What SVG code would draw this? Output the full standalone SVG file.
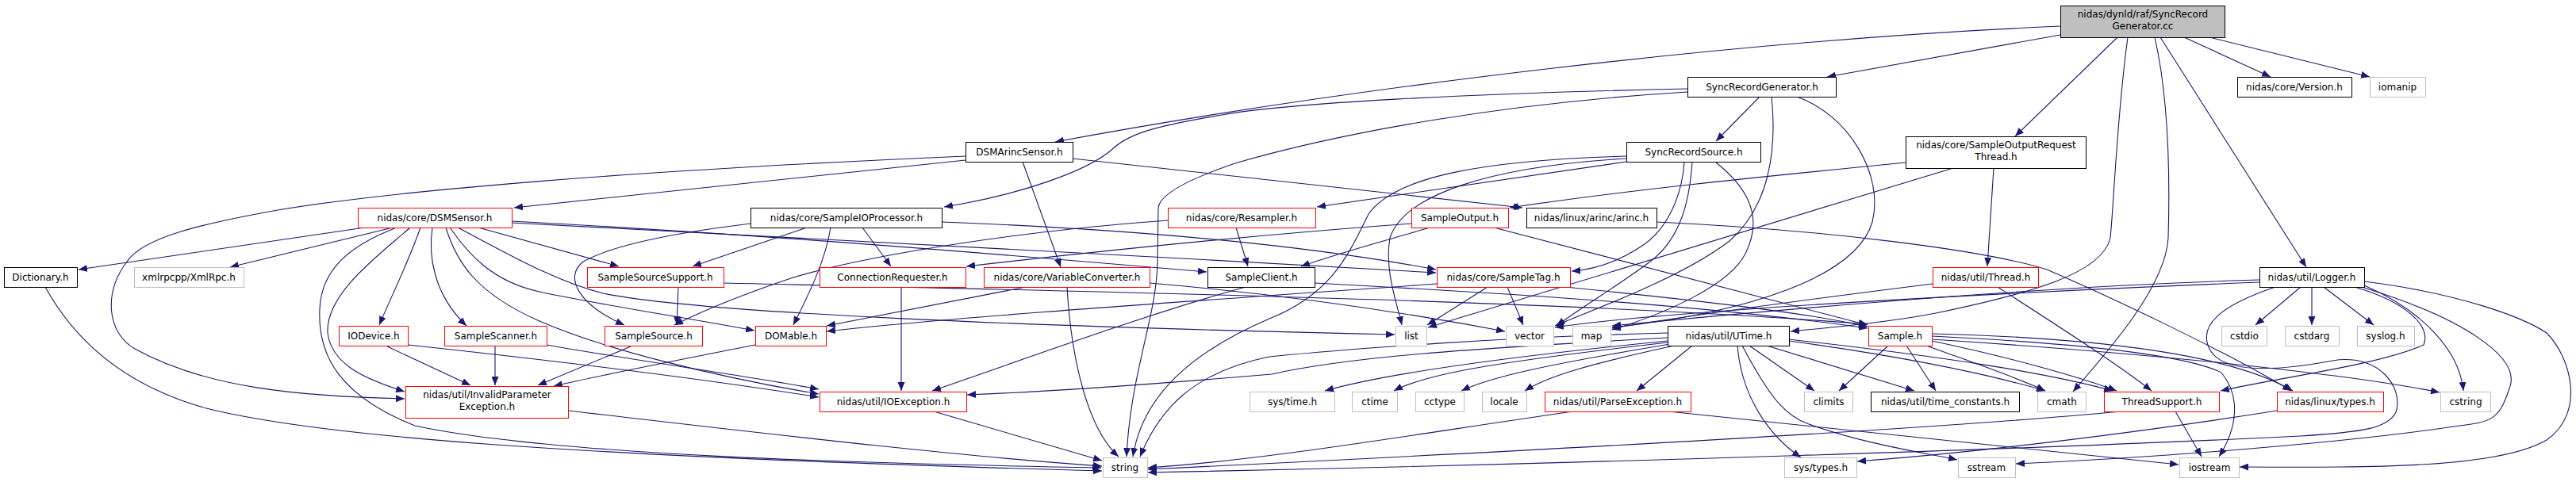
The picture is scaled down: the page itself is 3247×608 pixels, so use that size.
<svg xmlns="http://www.w3.org/2000/svg" width="3247" height="608" viewBox="0 0 3247 608">
<style>
.n rect{fill:#fff;stroke-width:1}
.r rect{stroke:#ff0000}
.k rect{stroke:#000}
.g rect{stroke:#bfbfbf}
text{font-family:"DejaVu Sans","Liberation Sans",sans-serif;font-size:12px;text-anchor:middle;fill:#000}
.e path{fill:none;stroke:#191970;stroke-width:1.1;marker-end:url(#a)}
</style>
<defs>
<marker id="a" markerWidth="12" markerHeight="9" refX="11" refY="4.5" orient="auto" markerUnits="userSpaceOnUse"><path d="M0,0 L11,4.5 L0,9 z" fill="#191970"/></marker>
</defs>
<rect width="3247" height="608" fill="#fff"/>
<g class="e" id="edges">
<path d="M2597,44 L2303,97"/>
<path d="M2597,33 C2200,50 1700,110 1330,179"/>
<path d="M2669,47 L2540,172"/>
<path d="M2753,47 L2862,97"/>
<path d="M2785,47 L2987,97"/>
<path d="M2723,47 L2907,337"/>
<path d="M2716,47 C2735,130 2735,230 2733,300 C2730,360 2660,440 2613,494"/>
<path d="M2682,47 C2668,150 2665,250 2660,300 C2650,345 2560,370 2440,395 C2380,407 2300,414 2257,418"/>
<path d="M2218,122 L2163,178"/>
<path d="M2127,112 C1850,118 1620,130 1540,145 C1450,160 1420,170 1400,190 C1370,215 1290,245 1190,261"/>
<path d="M2127,116 C1900,130 1700,165 1560,205 C1500,225 1462,245 1460,262 L1459,330 C1458,400 1425,470 1420,576"/>
<path d="M2233,122 C2240,190 2230,260 2180,304 C2120,350 2010,390 1960,411"/>
<path d="M2265,122 C2330,145 2375,220 2360,280 C2340,350 2200,395 2032,413"/>
<path d="M1217,202 L648,262"/>
<path d="M1217,197 C800,215 500,240 350,265 C250,283 180,300 160,330 C130,370 135,420 170,440 C260,490 380,500 510,503"/>
<path d="M1289,204 L1337,337"/>
<path d="M1352,200 L1919,262"/>
<path d="M2050,204 L1660,261"/>
<path d="M2050,197 C1880,202 1760,220 1725,270 C1700,320 1680,370 1600,402 C1500,445 1440,500 1428,576"/>
<path d="M2050,200 C1880,210 1770,245 1752,300 C1745,340 1760,380 1767,410"/>
<path d="M2123,204 C2120,250 2100,290 2070,310 C2040,330 2010,340 1981,342"/>
<path d="M2133,204 C2130,250 2120,300 2080,330 C2040,360 1990,390 1962,411"/>
<path d="M2163,205 C2220,250 2215,290 2200,320 C2180,360 2100,395 2032,416"/>
<path d="M2462,212 L1800,413"/>
<path d="M2402,205 C2200,225 2050,240 1903,262"/>
<path d="M2513,212 L2505,336"/>
<path d="M460,287 L99,340"/>
<path d="M495,287 L290,337"/>
<path d="M500,287 C440,310 405,340 403,390 C400,450 430,500 523,537 C700,575 1100,585 1388,590"/>
<path d="M517,287 C480,320 410,370 413,420 C418,460 460,478 510,494"/>
<path d="M530,287 C515,330 495,370 478,410"/>
<path d="M545,287 C540,320 545,370 588,411"/>
<path d="M562,287 C575,330 600,370 680,405 C760,440 900,475 1032,497"/>
<path d="M567,287 C590,320 620,355 680,368 C760,385 860,400 951,417"/>
<path d="M577,287 C640,320 700,355 760,370 C880,395 1300,412 1758,422"/>
<path d="M603,287 L780,336"/>
<path d="M645,279 C850,290 1080,305 1521,343"/>
<path d="M645,281 C900,295 1400,320 1810,344"/>
<path d="M946,282 C880,290 780,305 735,330 C710,350 730,385 787,410"/>
<path d="M1017,287 L873,336"/>
<path d="M1047,287 C1040,330 1020,370 1000,410"/>
<path d="M1087,287 L1123,336"/>
<path d="M1187,280 C1450,290 1650,310 1810,340"/>
<path d="M1472,278 C1300,290 1100,320 1000,350 C940,370 890,390 850,410"/>
<path d="M1558,287 L1573,336"/>
<path d="M1779,282 C1600,295 1400,315 1218,336"/>
<path d="M1802,287 C1760,300 1700,315 1640,336"/>
<path d="M1883,287 L2354,410"/>
<path d="M1570,362 C1450,395 1300,450 1175,493"/>
<path d="M1657,357 C1900,370 2150,385 2354,414"/>
<path d="M1875,362 L1799,410"/>
<path d="M1900,362 L1920,410"/>
<path d="M1811,358 C1500,380 1200,400 1042,418"/>
<path d="M1973,362 C2150,380 2280,395 2354,412"/>
<path d="M1345,362 C1350,450 1370,540 1410,576"/>
<path d="M1293,362 C1200,380 1100,400 1042,411"/>
<path d="M1449,357 C1600,370 1750,390 1897,418"/>
<path d="M1136,362 L1136,493"/>
<path d="M855,362 L853,410"/>
<path d="M912,357 C1400,368 2000,380 2354,409"/>
<path d="M952,435 C850,455 750,475 698,487"/>
<path d="M795,437 L678,486"/>
<path d="M624,437 L624,486"/>
<path d="M689,435 C800,455 950,475 1032,491"/>
<path d="M488,437 L593,486"/>
<path d="M514,435 C700,455 900,480 1032,501"/>
<path d="M716,518 C950,545 1200,575 1389,588"/>
<path d="M1177,519 L1389,581"/>
<path d="M57,362 C100,440 170,490 260,515 C400,550 700,575 1389,594"/>
<path d="M2102,426 C1850,440 1700,450 1603,472 C1450,485 1300,495 1219,498"/>
<path d="M2102,420 C1900,425 1700,440 1600,450 C1500,470 1460,520 1437,576"/>
<path d="M2102,430 C1900,450 1750,470 1670,493"/>
<path d="M2102,432 C1900,455 1800,470 1757,493"/>
<path d="M2105,434 C1950,460 1880,475 1842,493"/>
<path d="M2110,436 C2000,460 1950,475 1922,493"/>
<path d="M2133,436 L2063,493"/>
<path d="M2205,436 L2287,493"/>
<path d="M2227,436 L2413,493"/>
<path d="M2255,430 C2400,450 2500,470 2578,493"/>
<path d="M2255,428 C2450,450 2580,470 2663,493"/>
<path d="M2190,436 C2195,500 2230,550 2270,577"/>
<path d="M2196,436 C2230,500 2250,525 2280,535 C2350,560 2420,570 2467,580"/>
<path d="M1983,519 C1800,545 1600,580 1447,590"/>
<path d="M2103,519 C2300,540 2500,560 2746,586"/>
<path d="M2380,436 L2318,493"/>
<path d="M2403,436 L2440,493"/>
<path d="M2428,436 C2480,455 2540,475 2578,493"/>
<path d="M2435,430 C2530,450 2620,475 2668,493"/>
<path d="M2435,421 C2600,425 2800,440 2890,493"/>
<path d="M2435,428 C2700,445 2950,470 3075,495"/>
<path d="M2435,424 C2600,432 2750,445 2800,470 C2825,500 2820,540 2797,576"/>
<path d="M2870,518 C2700,545 2500,570 2341,582"/>
<path d="M2088,280 C2300,290 2500,315 2580,340 C2650,370 2800,440 2888,493"/>
<path d="M2673,519 C2400,545 1800,575 1447,592"/>
<path d="M2742,519 L2775,576"/>
<path d="M2518,362 C2600,415 2670,460 2712,493"/>
<path d="M2436,358 C2300,375 2150,395 2032,414"/>
<path d="M2900,362 L2843,410"/>
<path d="M2914,362 L2914,410"/>
<path d="M2929,362 L2992,410"/>
<path d="M2848,353 C2600,360 2300,385 2032,411"/>
<path d="M2848,356 C2500,370 2100,392 1960,413"/>
<path d="M2968,362 C3030,380 3065,410 3055,435 C3000,460 2880,475 2799,493"/>
<path d="M2980,360 C3050,390 3100,440 3105,493"/>
<path d="M2980,363 C3100,400 3180,450 3163,490 C3150,530 3140,532 3100,537 C2950,560 2700,578 2541,585"/>
<path d="M2980,355 C3100,370 3180,400 3210,420 C3240,450 3260,520 3210,555 C3150,590 3000,590 2823,589"/>
<path d="M2868,362 C2800,385 2770,410 2785,440 C2800,470 2860,470 2940,455 C3000,445 3030,490 3020,520 C3010,540 2980,545 2900,550 C2600,565 2000,585 1447,596"/>
</g>
<g id="root" class="n k"><rect x="2597.5" y="7.5" width="207" height="40" fill="#bfbfbf" style="fill:#bfbfbf"/><text x="2701" y="22">nidas/dynld/raf/SyncRecord</text><text x="2701" y="37">Generator.cc</text></g>
<g id="SyncRecordGenerator" class="n k"><rect x="2127.5" y="97.5" width="187" height="25"/><text x="2221" y="114">SyncRecordGenerator.h</text></g>
<g id="Version" class="n k"><rect x="2820.5" y="97.5" width="144" height="25"/><text x="2892" y="114">nidas/core/Version.h</text></g>
<g id="iomanip" class="n g"><rect x="2987.5" y="97.5" width="70" height="25"/><text x="3022" y="114">iomanip</text></g>
<g id="DSMArincSensor" class="n k"><rect x="1217.5" y="179.5" width="135" height="25"/><text x="1285" y="196">DSMArincSensor.h</text></g>
<g id="SyncRecordSource" class="n k"><rect x="2050.5" y="179.5" width="169" height="25"/><text x="2135" y="196">SyncRecordSource.h</text></g>
<g id="SampleOutputRequestThread" class="n k"><rect x="2402.5" y="172.5" width="227" height="40"/><text x="2516" y="187">nidas/core/SampleOutputRequest</text><text x="2516" y="202">Thread.h</text></g>
<g id="DSMSensor" class="n r"><rect x="451.5" y="262.5" width="194" height="25"/><text x="548" y="279">nidas/core/DSMSensor.h</text></g>
<g id="SampleIOProcessor" class="n k"><rect x="946.5" y="262.5" width="241" height="25"/><text x="1067" y="279">nidas/core/SampleIOProcessor.h</text></g>
<g id="Resampler" class="n r"><rect x="1472.5" y="262.5" width="186" height="25"/><text x="1565" y="279">nidas/core/Resampler.h</text></g>
<g id="SampleOutput" class="n r"><rect x="1779.5" y="262.5" width="122" height="25"/><text x="1840" y="279">SampleOutput.h</text></g>
<g id="arinc" class="n k"><rect x="1924.5" y="262.5" width="164" height="25"/><text x="2006" y="279">nidas/linux/arinc/arinc.h</text></g>
<g id="Dictionary" class="n k"><rect x="5.5" y="337.5" width="92" height="25"/><text x="51" y="354">Dictionary.h</text></g>
<g id="XmlRpc" class="n g"><rect x="169.5" y="337.5" width="138" height="25"/><text x="238" y="354">xmlrpcpp/XmlRpc.h</text></g>
<g id="SampleSourceSupport" class="n r"><rect x="740.5" y="337.5" width="172" height="25"/><text x="826" y="354">SampleSourceSupport.h</text></g>
<g id="ConnectionRequester" class="n r"><rect x="1033.5" y="337.5" width="184" height="25"/><text x="1125" y="354">ConnectionRequester.h</text></g>
<g id="VariableConverter" class="n r"><rect x="1240.5" y="337.5" width="209" height="25"/><text x="1345" y="354">nidas/core/VariableConverter.h</text></g>
<g id="SampleClient" class="n k"><rect x="1522.5" y="337.5" width="135" height="25"/><text x="1590" y="354">SampleClient.h</text></g>
<g id="SampleTag" class="n r"><rect x="1811.5" y="337.5" width="168" height="25"/><text x="1895" y="354">nidas/core/SampleTag.h</text></g>
<g id="Thread" class="n r"><rect x="2436.5" y="337.5" width="133" height="25"/><text x="2503" y="354">nidas/util/Thread.h</text></g>
<g id="Logger" class="n k"><rect x="2848.5" y="337.5" width="132" height="25"/><text x="2914" y="354">nidas/util/Logger.h</text></g>
<g id="IODevice" class="n r"><rect x="427.5" y="411.5" width="87" height="25"/><text x="471" y="428">IODevice.h</text></g>
<g id="SampleScanner" class="n r"><rect x="560.5" y="411.5" width="129" height="25"/><text x="625" y="428">SampleScanner.h</text></g>
<g id="SampleSource" class="n r"><rect x="762.5" y="411.5" width="123" height="25"/><text x="824" y="428">SampleSource.h</text></g>
<g id="DOMable" class="n r"><rect x="952.5" y="411.5" width="89" height="25"/><text x="997" y="428">DOMable.h</text></g>
<g id="list" class="n g"><rect x="1759.5" y="411.5" width="39" height="25"/><text x="1779" y="428">list</text></g>
<g id="vector" class="n g"><rect x="1898.5" y="411.5" width="60" height="25"/><text x="1928" y="428">vector</text></g>
<g id="map" class="n g"><rect x="1982.5" y="411.5" width="48" height="25"/><text x="2006" y="428">map</text></g>
<g id="UTime" class="n k"><rect x="2102.5" y="411.5" width="153" height="25"/><text x="2179" y="428">nidas/util/UTime.h</text></g>
<g id="Sample" class="n r"><rect x="2355.5" y="411.5" width="80" height="25"/><text x="2395" y="428">Sample.h</text></g>
<g id="cstdio" class="n g"><rect x="2800.5" y="411.5" width="57" height="25"/><text x="2829" y="428">cstdio</text></g>
<g id="cstdarg" class="n g"><rect x="2880.5" y="411.5" width="68" height="25"/><text x="2914" y="428">cstdarg</text></g>
<g id="syslog" class="n g"><rect x="2971.5" y="411.5" width="72" height="25"/><text x="3007" y="428">syslog.h</text></g>
<g id="InvalidParameterException" class="n r"><rect x="511.5" y="487.5" width="205" height="40"/><text x="614" y="502">nidas/util/InvalidParameter</text><text x="614" y="517">Exception.h</text></g>
<g id="IOException" class="n r"><rect x="1033.5" y="494.5" width="185" height="25"/><text x="1126" y="511">nidas/util/IOException.h</text></g>
<g id="systime" class="n g"><rect x="1575.5" y="494.5" width="107" height="25"/><text x="1629" y="511">sys/time.h</text></g>
<g id="ctime" class="n g"><rect x="1704.5" y="494.5" width="57" height="25"/><text x="1733" y="511">ctime</text></g>
<g id="cctype" class="n g"><rect x="1784.5" y="494.5" width="61" height="25"/><text x="1815" y="511">cctype</text></g>
<g id="locale" class="n g"><rect x="1868.5" y="494.5" width="56" height="25"/><text x="1896" y="511">locale</text></g>
<g id="ParseException" class="n r"><rect x="1947.5" y="494.5" width="184" height="25"/><text x="2039" y="511">nidas/util/ParseException.h</text></g>
<g id="climits" class="n g"><rect x="2274.5" y="494.5" width="61" height="25"/><text x="2305" y="511">climits</text></g>
<g id="time_constants" class="n k"><rect x="2358.5" y="494.5" width="187" height="25"/><text x="2452" y="511">nidas/util/time_constants.h</text></g>
<g id="cmath" class="n g"><rect x="2568.5" y="494.5" width="61" height="25"/><text x="2599" y="511">cmath</text></g>
<g id="ThreadSupport" class="n r"><rect x="2652.5" y="494.5" width="145" height="25"/><text x="2725" y="511">ThreadSupport.h</text></g>
<g id="linuxtypes" class="n r"><rect x="2870.5" y="494.5" width="134" height="25"/><text x="2937" y="511">nidas/linux/types.h</text></g>
<g id="cstring" class="n g"><rect x="3076.5" y="494.5" width="63" height="25"/><text x="3108" y="511">cstring</text></g>
<g id="string" class="n g"><rect x="1390.5" y="577.5" width="56" height="25"/><text x="1418" y="594">string</text></g>
<g id="systypes" class="n g"><rect x="2249.5" y="577.5" width="91" height="25"/><text x="2295" y="594">sys/types.h</text></g>
<g id="sstream" class="n g"><rect x="2468.5" y="577.5" width="72" height="25"/><text x="2504" y="594">sstream</text></g>
<g id="iostream" class="n g"><rect x="2747.5" y="577.5" width="75" height="25"/><text x="2785" y="594">iostream</text></g>
</svg>
